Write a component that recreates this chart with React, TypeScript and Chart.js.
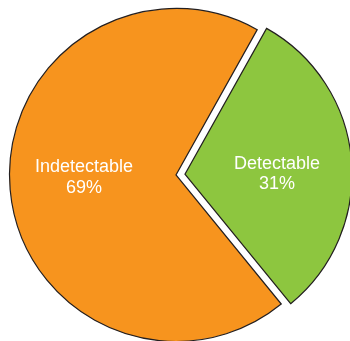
import React, { useEffect, useRef } from "react";
import { Chart, registerables } from "chart.js";

Chart.register(...registerables);

const categories = ["Detectable", "Indetectable"];
const values = [31, 69];
const percentLabels = ["31%", "69%"];
const colors = ["#8DC63F", "#F7941E"];
const explodePx = [9, 0];

const labelPlugin = {
  id: "sliceLabels",
  afterDatasetsDraw(chart: any) {
    const ctx = chart.ctx;
    const meta = chart.getDatasetMeta(0);
    ctx.save();
    ctx.fillStyle = "#ffffff";
    ctx.font = '18px "Liberation Sans", Arial, sans-serif';
    ctx.textAlign = "center";
    ctx.textBaseline = "alphabetic";
    meta.data.forEach((arc: any, i: number) => {
      const p = arc.getProps(["x", "y", "startAngle", "endAngle", "outerRadius"], true);
      const mid = (p.startAngle + p.endAngle) / 2;
      const ox = Math.cos(mid) * explodePx[i];
      const oy = Math.sin(mid) * explodePx[i];
      const cx = p.x + ox + Math.cos(mid) * p.outerRadius * 0.555;
      const cy = p.y + oy + Math.sin(mid) * p.outerRadius * 0.1;
      ctx.fillText(categories[i], cx, cy - 4);
      ctx.fillText(percentLabels[i], cx, cy + 16.5);
    });
    ctx.restore();
  },
};

export default function App() {
  const ref = useRef<HTMLCanvasElement | null>(null);
  useEffect(() => {
    if (!ref.current) return;
    const chart = new Chart(ref.current, {
      type: "pie",
      data: {
        labels: categories,
        datasets: [
          {
            data: values,
            backgroundColor: colors,
            borderColor: "#231F20",
            borderWidth: 1.2,
            borderJoinStyle: "miter",
            // Chart.js arc draws offset/4, so scale up to get the pixel shift
            offset: explodePx.map((v) => v * 4),
            hoverOffset: 0,
          } as any,
        ],
      },
      options: {
        responsive: false,
        animation: false,
        rotation: 29.2,
        radius: 166.5,
        layout: { padding: 0 },
        plugins: {
          legend: { display: false },
          tooltip: { enabled: false },
        },
        events: [],
      } as any,
      plugins: [labelPlugin],
    });
    return () => chart.destroy();
  }, []);
  return (
    <div
      style={{
        position: "fixed",
        left: 0,
        top: 0,
        width: 350,
        height: 341,
        overflow: "hidden",
        background: "#fff",
      }}
    >
      <canvas ref={ref} width={352} height={350} style={{ display: "block" }} />
    </div>
  );
}
